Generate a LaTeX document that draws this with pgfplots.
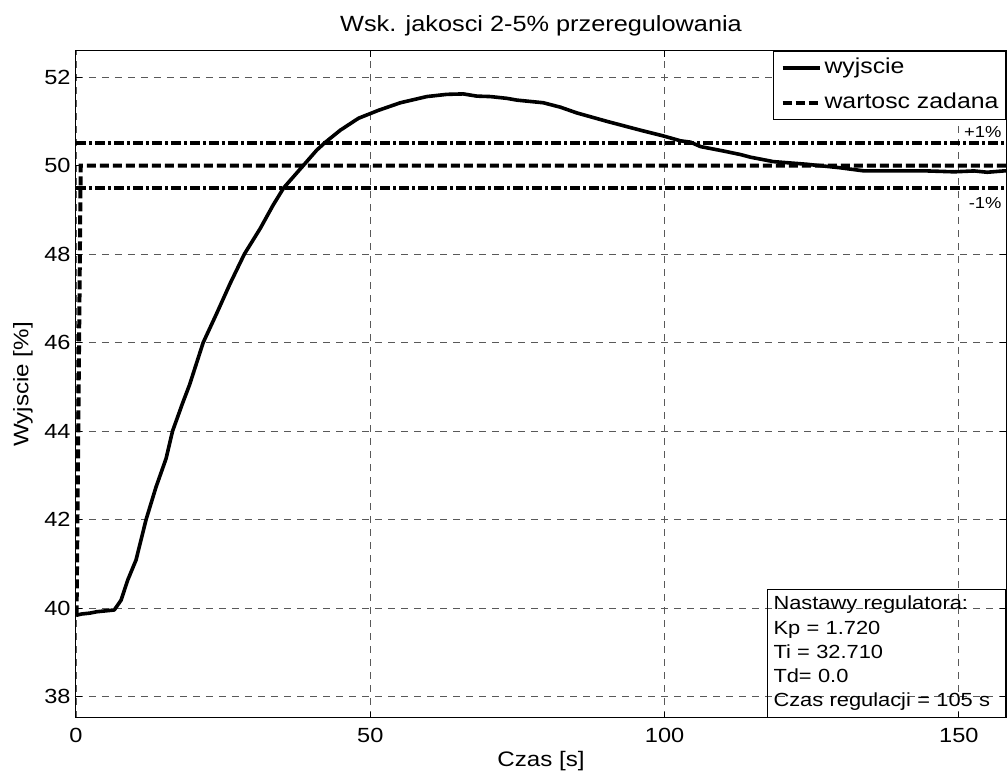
\documentclass[border=0pt]{standalone}
\usepackage{fontspec}
\setmainfont{Liberation Sans}[FakeStretch=1.15]
\usepackage{pgfplots}
\pgfplotsset{compat=1.18}
\usetikzlibrary{calc}

\begin{document}
\begin{tikzpicture}
\begin{axis}[
  name=ax,
  scale only axis,
  width=465pt, height=333.5pt,
  xmin=0, xmax=158, ymin=37.52, ymax=52.59,
  xtick={0,50,100,150}, ytick={38,40,...,52},
  tick align=inside, major tick length=3pt,
  tick style={black, line width=0.5pt},
  axis line style={black, line width=0.5pt},
  grid=major,
  major grid style={black!65, line width=0.45pt, dash pattern=on 3.5pt off 3pt},
  /pgf/number format/assume math mode=true,
  ticklabel style={font=\fontsize{10.25}{12}\selectfont},
  xticklabel style={anchor=base, inner sep=0pt, yshift=-12.5pt},
  yticklabel style={anchor=east, inner sep=0pt, xshift=-2.5pt},
  every axis title shift=0pt,
  title={Wsk. jakosci 2-5\% przeregulowania},
  title style={font=\fontsize{11}{13}\selectfont, at={(rel axis cs:0.5,1)}, anchor=base, inner sep=0pt, yshift=9.5pt},
  xlabel={Czas [s]},
  xlabel style={font=\fontsize{10.5}{12}\selectfont, at={(rel axis cs:0.5,0)}, anchor=base, inner sep=0pt, yshift=-24.5pt},
  ylabel={Wyjscie [\%]},
  ylabel style={font=\fontsize{10.5}{12}\selectfont, at={(rel axis cs:0,0.5)}, anchor=center, inner sep=0pt, rotate=0, yshift=26.5pt},
  legend style={at={(rel axis cs:1,1)}, anchor=north east, draw=black, line width=0.5pt, fill=white,
    font=\fontsize{10.8}{12}\selectfont, inner xsep=3.5pt, inner ysep=3pt, row sep=7pt, column sep=1.5pt,
    nodes={inner sep=0pt, text height=8pt, text depth=2.5pt}},
  legend cell align=left,
  legend image code/.code={\draw[#1] (0pt,0pt) -- (18.5pt,0pt);},
]
\addplot[black, line width=1.8pt, line join=round] coordinates {
(0,39.84) (1,39.87) (2.4,39.89) (3.5,39.92) (5,39.94) (6.5,39.96)
(7.65,40.18) (8.8,40.64) (10.2,41.09) (11.9,42.0) (13.6,42.74) (15.3,43.38)
(16.4,44.0) (18.1,44.63) (19.3,45.05) (21.6,46.0) (23.9,46.66) (26.2,47.34)
(28.6,48.0) (31.3,48.58) (33.5,49.11) (35.3,49.5) (38.6,50.0) (40.9,50.35)
(42.3,50.52) (44.9,50.80) (48.0,51.07) (51.4,51.25) (55.1,51.42) (59.6,51.56)
(63.0,51.61) (65.8,51.62) (68.1,51.57) (70.4,51.56) (73.2,51.52) (74.9,51.48)
(79.4,51.42) (82.3,51.32) (85.1,51.19) (90.2,51.0) (95.9,50.80) (99.8,50.67)
(102.7,50.56) (104.4,50.53) (106.1,50.43) (110.0,50.33) (112.9,50.25) (114.6,50.19)
(118.5,50.09) (124.2,50.03) (129.9,49.95) (133.9,49.88) (138.4,49.88) (144.6,49.88)
(149.2,49.86) (152.6,49.88) (154.8,49.85) (157.6,49.88) (158,49.88)
};
\addlegendentry{wyjscie}
\addplot[black, line width=2pt, dash pattern=on 4.5pt off 2pt] coordinates {
(0.1,39.86) (0.8,50) (158,50)
};
\addlegendentry{wartosc zadana}
\addplot[black, line width=2pt, dash pattern=on 5pt off 1.5pt on 1.5pt off 1.5pt, forget plot] coordinates {
(0,50.5) (158,50.5)
};
\addplot[black, line width=2pt, dash pattern=on 5pt off 1.5pt on 1.5pt off 1.5pt, forget plot] coordinates {
(0,49.5) (158,49.5)
};
\node[anchor=east, inner sep=0pt, font=\fontsize{8}{9}\selectfont] at (axis cs:157.3,50.76) {+1\%};
\node[anchor=east, inner sep=0pt, font=\fontsize{8}{9}\selectfont] at (axis cs:157.3,49.15) {-1\%};
\node[draw=black, line width=0.5pt, anchor=south east, align=left, text width=113pt,
  inner xsep=3pt, inner ysep=0pt, minimum height=64pt,
  font=\fontsize{9.5}{12.15}\selectfont] at (rel axis cs:1,0)
  {Nastawy regulatora:\\Kp = 1.720\\Ti = 32.710\\Td= 0.0\\Czas regulacji = 105 s};
\end{axis}
\pgfresetboundingbox
\path ($(ax.south west)+(-38pt,-27.5pt)$) rectangle ($(ax.north east)+(0.5pt,25.5pt)$);
\end{tikzpicture}
\end{document}
